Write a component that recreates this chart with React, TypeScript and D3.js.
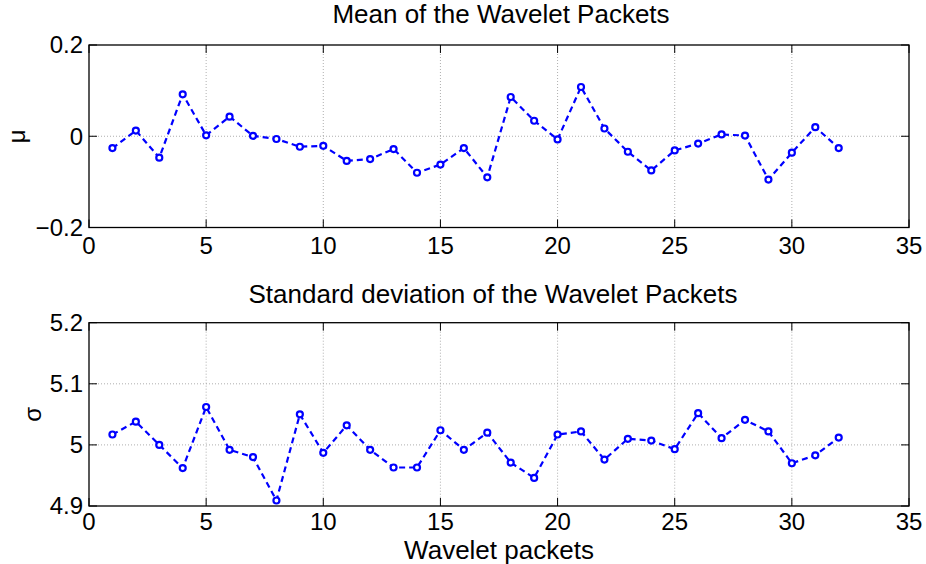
import React from 'react';
import * as d3 from 'd3';

const packets = d3.range(1, 33);
const meanValues = [
  -0.026, 0.0125, -0.047, 0.092, 0.002, 0.043, 0.001, -0.006,
  -0.023, -0.021, -0.054, -0.050, -0.028, -0.080, -0.062, -0.026,
  -0.090, 0.086, 0.034, -0.007, 0.108, 0.017, -0.034, -0.075,
  -0.031, -0.016, 0.004, 0.0015, -0.095, -0.036, 0.020, -0.026,
];
const stdValues = [
  5.017, 5.038, 5.000, 4.962, 5.062, 4.992, 4.980, 4.909,
  5.050, 4.987, 5.032, 4.992, 4.963, 4.963, 5.024, 4.992,
  5.020, 4.971, 4.946, 5.017, 5.022, 4.976, 5.010, 5.007,
  4.993, 5.052, 5.011, 5.041, 5.022, 4.970, 4.983, 5.012,
];
const xTicks = [0, 5, 10, 15, 20, 25, 30, 35];
const meanTicks = [-0.2, 0, 0.2];
const meanGrid = [0];
const stdTicks = [4.9, 5, 5.1, 5.2];
const stdGrid = [5, 5.1];
const stdTickLabels = ['4.9', '5', '5.1', '5.2'];
const meanTickLabels = ['\u22120.2', '0', '0.2'];

const FONT = '"Liberation Sans", Arial, Helvetica, sans-serif';
const BLUE = '#0000ff';

type PanelProps = {
  top: number;
  bottom: number;
  values: number[];
  domain: [number, number];
  yTicks: number[];
  yTickLabels: string[];
  yGrid: number[];
  title: string;
  titleX: number;
  titleY: number;
  ylabel: string;
  ylabelX: number;
  xLabelGap: number;
};

function Panel(p: PanelProps) {
  const left = 89;
  const right = 909;
  const x = d3.scaleLinear().domain([0, 35]).range([left, right]);
  const y = d3.scaleLinear().domain(p.domain).range([p.bottom, p.top]);
  const line = d3
    .line<number>()
    .x((_, i) => x(packets[i]))
    .y((d) => y(d));
  const tl = 8;
  const midY = (p.top + p.bottom) / 2;
  return (
    <g>
      <rect x={left} y={p.top} width={right - left} height={p.bottom - p.top} fill="white" />
      {xTicks.slice(1, -1).map((t) => (
        <line key={'gx' + t} x1={x(t)} x2={x(t)} y1={p.top} y2={p.bottom}
          stroke="#9a9a9a" strokeWidth={0.8} strokeDasharray="1,2" />
      ))}
      {p.yGrid.map((t) => (
        <line key={'gy' + t} x1={left} x2={right} y1={y(t)} y2={y(t)}
          stroke="#9a9a9a" strokeWidth={0.8} strokeDasharray="1,2" />
      ))}
      {xTicks.map((t) => (
        <g key={'tx' + t}>
          <line x1={x(t)} x2={x(t)} y1={p.bottom} y2={p.bottom - tl} stroke="black" strokeWidth={1} />
          <line x1={x(t)} x2={x(t)} y1={p.top} y2={p.top + tl} stroke="black" strokeWidth={1} />
          <text x={x(t)} y={p.bottom + p.xLabelGap} textAnchor="middle" fontSize={24} fontFamily={FONT}>{t}</text>
        </g>
      ))}
      {p.yTicks.map((t, i) => (
        <g key={'ty' + t}>
          <line x1={left} x2={left + tl} y1={y(t)} y2={y(t)} stroke="black" strokeWidth={1} />
          <line x1={right} x2={right - tl} y1={y(t)} y2={y(t)} stroke="black" strokeWidth={1} />
          <text x={83} y={y(t)} dy="0.35em" textAnchor="end" fontSize={24} fontFamily={FONT}>{p.yTickLabels[i]}</text>
        </g>
      ))}
      <rect x={left} y={p.top} width={right - left} height={p.bottom - p.top} fill="none" stroke="black" strokeWidth={1.3} />
      <path d={line(p.values) || ''} fill="none" stroke={BLUE} strokeWidth={2.2} strokeDasharray="6,4" />
      {p.values.map((v, i) => (
        <circle key={'m' + i} cx={x(packets[i])} cy={y(v)} r={3} fill="white" stroke={BLUE} strokeWidth={2.2} />
      ))}
      <text x={p.titleX} y={p.titleY} textAnchor="middle" fontSize={26} fontFamily={FONT}>{p.title}</text>
      <text transform={`translate(${p.ylabelX},${midY}) rotate(-90)`} textAnchor="middle" fontSize={24} fontFamily={FONT}>{p.ylabel}</text>
    </g>
  );
}

export default function App() {
  return (
    <svg width={926} height={564} style={{ position: 'absolute', left: 0, top: 0, background: 'white' }}>
      <rect width={926} height={564} fill="white" />
      <Panel top={45} bottom={227.5} values={meanValues} domain={[-0.2, 0.2]}
        yTicks={meanTicks} yTickLabels={meanTickLabels} yGrid={meanGrid}
        title="Mean of the Wavelet Packets" titleX={501} titleY={23} ylabel="μ" ylabelX={25} xLabelGap={26} />
      <Panel top={322.7} bottom={506} values={stdValues} domain={[4.9, 5.2]}
        yTicks={stdTicks} yTickLabels={stdTickLabels} yGrid={stdGrid}
        title="Standard deviation of the Wavelet Packets" titleX={493} titleY={303} ylabel="σ" ylabelX={41} xLabelGap={24} />
      <text x={499} y={559} textAnchor="middle" fontSize={26} fontFamily={FONT}>Wavelet packets</text>
    </svg>
  );
}
